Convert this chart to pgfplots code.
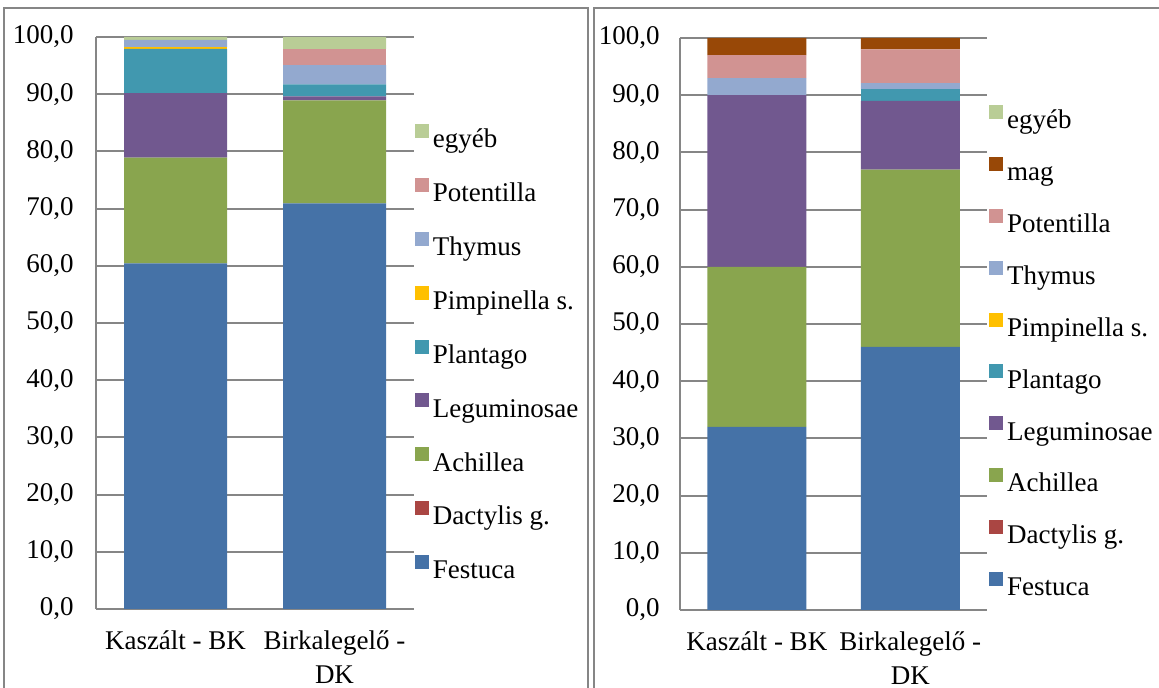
\documentclass[border=0pt]{standalone}
\usepackage{pgfplots}
\pgfplotsset{compat=1.18}
\usepackage{fontspec}
\setmainfont{Liberation Serif}
\definecolor{cFest}{HTML}{4572A7}
\definecolor{cDact}{HTML}{AA4643}
\definecolor{cAchi}{HTML}{89A54E}
\definecolor{cLegu}{HTML}{71588F}
\definecolor{cPlan}{HTML}{4198AF}
\definecolor{cPimp}{HTML}{FFC000}
\definecolor{cThym}{HTML}{93A9CF}
\definecolor{cPote}{HTML}{D19392}
\definecolor{cMag}{HTML}{984807}
\definecolor{cEgy}{HTML}{B9CD96}
\definecolor{cGrid}{HTML}{868686}
\newcommand{\cf}{\fontsize{13.5}{17}\selectfont}
\pgfplotsset{
  mybar/.style={
    ybar stacked, scale only axis, anchor=south west,
    height=286pt,
    ymin=0, ymax=100, ytick={0,10,...,100},
    xmin=-0.5, xmax=1.5, xtick={0,1},
    xticklabels={{Kaszált - BK},{Birkalegelő -\\DK}},
    xticklabel style={align=center, anchor=north, inner sep=0pt, yshift=-10.5pt, font=\cf},
    axis x line*=bottom, axis y line*=left,
    axis line style={cGrid, line width=0.6pt},
    ymajorgrids, grid style={cGrid, line width=1pt},
    major tick length=0pt,
    yticklabel style={font=\cf, inner sep=0pt, anchor=east,
      /pgf/number format/fixed, /pgf/number format/fixed zerofill,
      /pgf/number format/precision=1, /pgf/number format/use comma,
      /pgf/number format/assume math mode=true},
    legend cell align=left, reverse legend,
    legend image code/.code={\fill[##1] (0pt,1.35pt) rectangle (7pt,8.35pt);},
    legend style={draw=none, fill=none, anchor=north west, font=\cf,
      inner sep=0pt, outer sep=0pt, column sep=2pt,
      nodes={inner sep=0pt, text height=10pt, text depth=3pt}},
  }
}
\begin{document}
\begin{tikzpicture}[x=0.5pt,y=0.5pt]
\useasboundingbox (0,0) rectangle (1159,688);
\draw[cGrid, line width=1pt] (4,-20) rectangle (588,680);
\draw[cGrid, line width=1pt] (594,-20) rectangle (1185,680);
% left panel
\begin{axis}[mybar, at={(48pt,39.5pt)}, width=159pt, bar width=51.5pt,
  yticklabel style={/tikz/xshift=-11pt},
  legend style={at={(1.003,0.848)}, row sep=12.1pt}]
\addplot[fill=cFest, draw=none] coordinates {(0,60.4) (1,70.9)};
\addplot[fill=cDact, draw=none] coordinates {(0,0) (1,0)};
\addplot[fill=cAchi, draw=none] coordinates {(0,18.5) (1,18.0)};
\addplot[fill=cLegu, draw=none] coordinates {(0,11.3) (1,0.7)};
\addplot[fill=cPlan, draw=none] coordinates {(0,7.7) (1,2.1)};
\addplot[fill=cPimp, draw=none] coordinates {(0,0.3) (1,0)};
\addplot[fill=cThym, draw=none] coordinates {(0,1.3) (1,3.4)};
\addplot[fill=cPote, draw=none] coordinates {(0,0) (1,2.8)};
\addplot[fill=cEgy, draw=none] coordinates {(0,0.5) (1,2.1)};
\legend{Festuca, Dactylis g., Achillea, Leguminosae, Plantago, Pimpinella s., Thymus, Potentilla, egyéb}
\end{axis}
% right panel
\begin{axis}[mybar, at={(340pt,39pt)}, width=153.5pt, bar width=49.5pt,
  yticklabel style={/tikz/xshift=-10pt},
  legend style={at={(1.007,0.883)}, row sep=11.1pt}]
\addplot[fill=cFest, draw=none] coordinates {(0,32) (1,46)};
\addplot[fill=cDact, draw=none] coordinates {(0,0) (1,0)};
\addplot[fill=cAchi, draw=none] coordinates {(0,28) (1,31)};
\addplot[fill=cLegu, draw=none] coordinates {(0,30) (1,12)};
\addplot[fill=cPlan, draw=none] coordinates {(0,0) (1,2)};
\addplot[fill=cPimp, draw=none] coordinates {(0,0) (1,0)};
\addplot[fill=cThym, draw=none] coordinates {(0,3) (1,1.1)};
\addplot[fill=cPote, draw=none] coordinates {(0,4) (1,5.9)};
\addplot[fill=cMag, draw=none] coordinates {(0,3) (1,2)};
\addplot[fill=cEgy, draw=none] coordinates {(0,0) (1,0)};
\legend{Festuca, Dactylis g., Achillea, Leguminosae, Plantago, Pimpinella s., Thymus, Potentilla, mag, egyéb}
\end{axis}
\end{tikzpicture}
\end{document}
